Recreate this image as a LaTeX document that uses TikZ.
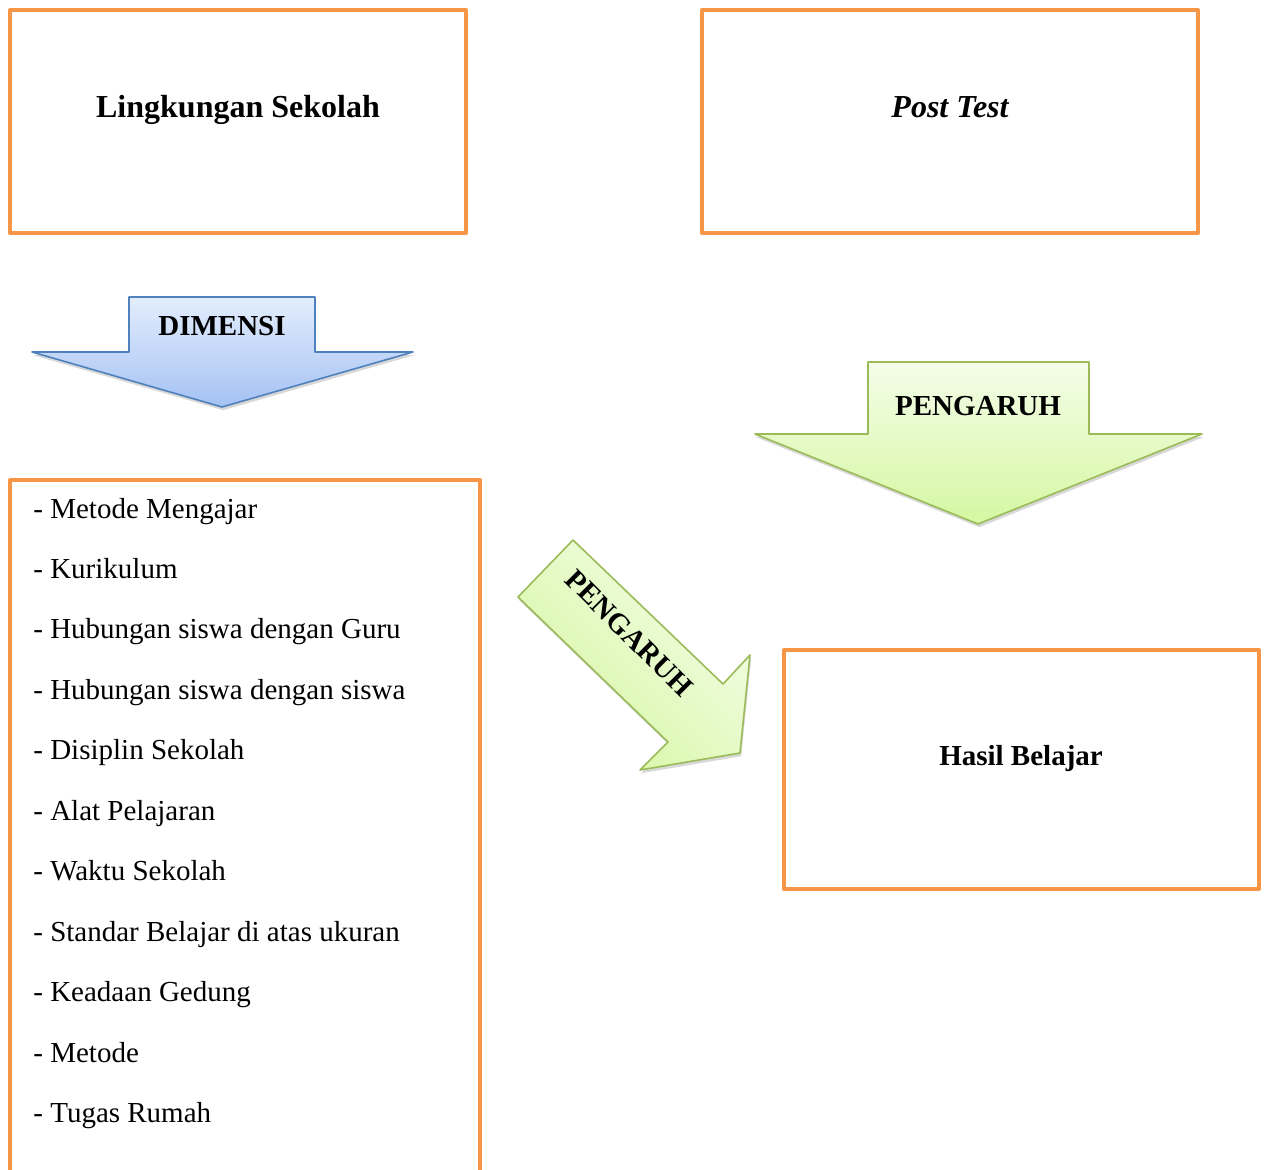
\documentclass[tikz,border=0pt]{standalone}
\usepackage{fontspec}
\setmainfont{Liberation Serif}
\usetikzlibrary{shadows}
\definecolor{oranye}{HTML}{F79646}
\definecolor{biruatas}{HTML}{E3EDFC}
\definecolor{birubawah}{HTML}{A5C2F4}
\definecolor{birugaris}{HTML}{4F81BD}
\definecolor{hijauatas}{HTML}{F4FDE8}
\definecolor{hijaubawah}{HTML}{D5F7A2}
\definecolor{hijaugaris}{HTML}{9BBB59}

\begin{document}
\begin{tikzpicture}[x=0.5pt,y=-0.5pt,
  kotak/.style={draw=oranye, line width=2pt, line join=round},
  judul/.style={font=\fontsize{16}{19}\selectfont\bfseries, anchor=base, inner sep=0pt},
  tulisan/.style={font=\fontsize{14.5}{17}\selectfont\bfseries, anchor=base, inner sep=0pt},
  butir/.style={font=\fontsize{14.5}{17}\selectfont, anchor=base west, inner sep=0pt},
  bayang/.style={drop shadow={opacity=0.3, shadow xshift=0.6pt, shadow yshift=-1.6pt}},
  panahbiru/.style={top color=biruatas, bottom color=birubawah, draw=birugaris, line width=0.8pt, line join=round, bayang},
  panahhijau/.style={top color=hijauatas, bottom color=hijaubawah, draw=hijaugaris, line width=0.8pt, line join=round, bayang}]
\useasboundingbox (0,0) rectangle (1267,1169);
\clip (0,0) rectangle (1267,1169);
\fill[white] (0,0) rectangle (1267,1169);

\draw[kotak] (10,10) rectangle (466,233);
\node[judul] (lingkungan) at (238,117) {Lingkungan Sekolah};
\draw[kotak] (702,10) rectangle (1198,233);
\node[judul] (posttest) at (950,117) {\itshape Post Test};

\shade[panahbiru] (129,297) -- (315,297) -- (315,352) -- (413,352) -- (222,407) -- (32,352) -- (129,352) -- cycle;
\node[tulisan] (dimensi) at (222,335) {DIMENSI};

\shade[panahhijau] (868,362) -- (1089,362) -- (1089,434) -- (1202,434) -- (978,524) -- (755,434) -- (868,434) -- cycle;
\node[tulisan] (pengaruhA) at (978,415) {PENGARUH};

\shade[panahhijau, shading angle=-45] (573,540) -- (723,684) -- (750,655) -- (740,753) -- (640,770) -- (668,742) -- (518,597) -- cycle;
\node[tulisan, anchor=center, rotate=-45] (pengaruhB) at (629,633) {PENGARUH};

\draw[kotak] (10,480) rectangle (480,1200);
\foreach \teks [count=\i from 0] in {Metode Mengajar, Kurikulum, Hubungan siswa dengan Guru, Hubungan siswa dengan siswa, Disiplin Sekolah, Alat Pelajaran, Waktu Sekolah, Standar Belajar di atas ukuran, Keadaan Gedung, Metode, Tugas Rumah}
  \node[butir] (butir\i) at (33,{518+60.45*\i}) {- \teks};

\draw[kotak] (784,650) rectangle (1259,889);
\node[tulisan] (hasil) at (1021,765) {Hasil Belajar};
\end{tikzpicture}
\end{document}
